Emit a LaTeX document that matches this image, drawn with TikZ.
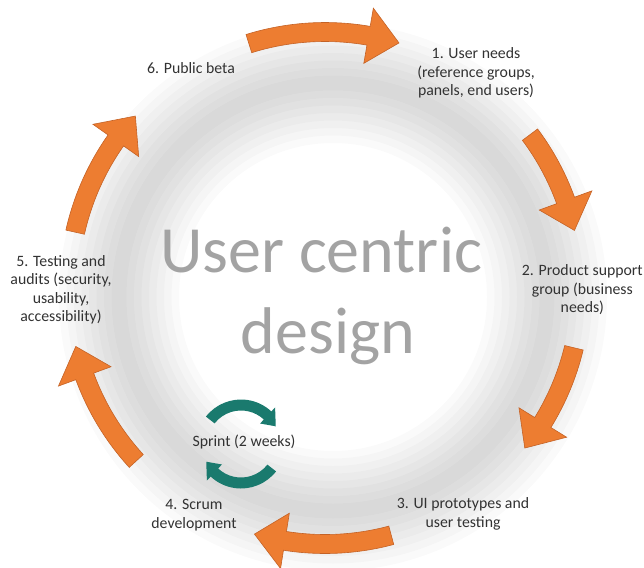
\documentclass[tikz,border=0pt]{standalone}
\usepackage{fontspec}
\setmainfont{Carlito}
\usepackage{tikz}
\usepackage{xcolor}
\usetikzlibrary{arrows}

\definecolor{cycleorange}{RGB}{237,125,49}
\definecolor{cycleedge}{RGB}{196,98,38}
\definecolor{sprintteal}{RGB}{26,122,110}
\definecolor{labelgray}{RGB}{50,50,50}
\definecolor{titlegray}{RGB}{163,163,163}

% curved block arrow on a ring: [style]{tail angle}{tip angle}
% sizes come from \arrR (radius), \arrW (shaft), \arrH (half head), \arrL (head angle)
\newcommand{\cyclearrow}[3][]{%
  \pgfmathsetmacro\arrHB{#3+\arrL}%
  \pgfmathsetmacro\arrO{\arrR+\arrW/2}%
  \pgfmathsetmacro\arrI{\arrR-\arrW/2}%
  \pgfmathsetmacro\arrBO{\arrR+\arrH}%
  \pgfmathsetmacro\arrBI{\arrR-\arrH}%
  \path[#1] (#2:\arrO) arc[start angle=#2,end angle=\arrHB,radius=\arrO]
    -- (\arrHB:\arrBO) -- (#3:\arrR) -- (\arrHB:\arrBI) -- (\arrHB:\arrI)
    arc[start angle=\arrHB,end angle=#2,radius=\arrI] -- cycle;}

\begin{document}
\begin{tikzpicture}[x=1pt,y=1pt,
    orangearrow/.style={fill=cycleorange,draw=cycleedge,line width=0.6pt},
    tealarrow/.style={fill=sprintteal},
    steplabel/.style={text=labelgray,align=center,
                      font=\fontsize{15.8}{18.5}\selectfont},
    titletext/.style={text=titlegray,anchor=base,
                      font=\fontsize{66}{81}\selectfont}]

  \useasboundingbox (0,0) rectangle (644,-567);
  \coordinate (ring)   at (325,-288);
  \coordinate (shadow) at (333,-297);
  \coordinate (sprint) at (241,-444);

  % soft shadow round the cycle
  \foreach \w in {15,30,...,120}
    \draw[black,opacity=0.02,line width=\w] (shadow) circle[radius=214];

  % the six steps
  \begin{scope}[shift={(ring)}]
    \def\arrR{256}\def\arrW{19}\def\arrH{28}\def\arrL{7}
    \cyclearrow[orangearrow]{107.3}{73.2}
    \cyclearrow[orangearrow]{36.8}{13}
    \cyclearrow[orangearrow]{-13.5}{-38.7}
    \cyclearrow[orangearrow]{-75}{-106}
    \cyclearrow[orangearrow]{-137.5}{-166.8}
    \cyclearrow[orangearrow]{167.4}{137.8}
  \end{scope}

  % sprint loop
  \begin{scope}[shift={(sprint)}]
    \def\arrR{39}\def\arrW{11}\def\arrH{11}\def\arrL{20}
    \cyclearrow[tealarrow]{142}{27}
    \cyclearrow[tealarrow]{-38}{-153}
  \end{scope}

  \node[titletext] (title)  at (321,-272) {User centric};
  \node[titletext] (title2) at (328,-353) {design};

  \node[steplabel] (needs)   at (476,-73)  {1. User needs\\(reference groups,\\panels, end users)};
  \node[steplabel,anchor=east,inner sep=0.5pt] (support) at (643.5,-290) {2. Product support\\group (business\\needs)};
  \node[steplabel] (proto)   at (463,-514) {3. UI prototypes and\\user testing};
  \node[steplabel] (scrum)   at (194,-515) {4. Scrum\\development};
  \node[steplabel] (audits)  at (61,-290)  {5. Testing and\\audits (security,\\usability,\\accessibility)};
  \node[steplabel] (beta)    at (191,-68)  {6. Public beta};
  \node[steplabel] (sprinttext) at (244,-442) {Sprint (2 weeks)};
\end{tikzpicture}
\end{document}
